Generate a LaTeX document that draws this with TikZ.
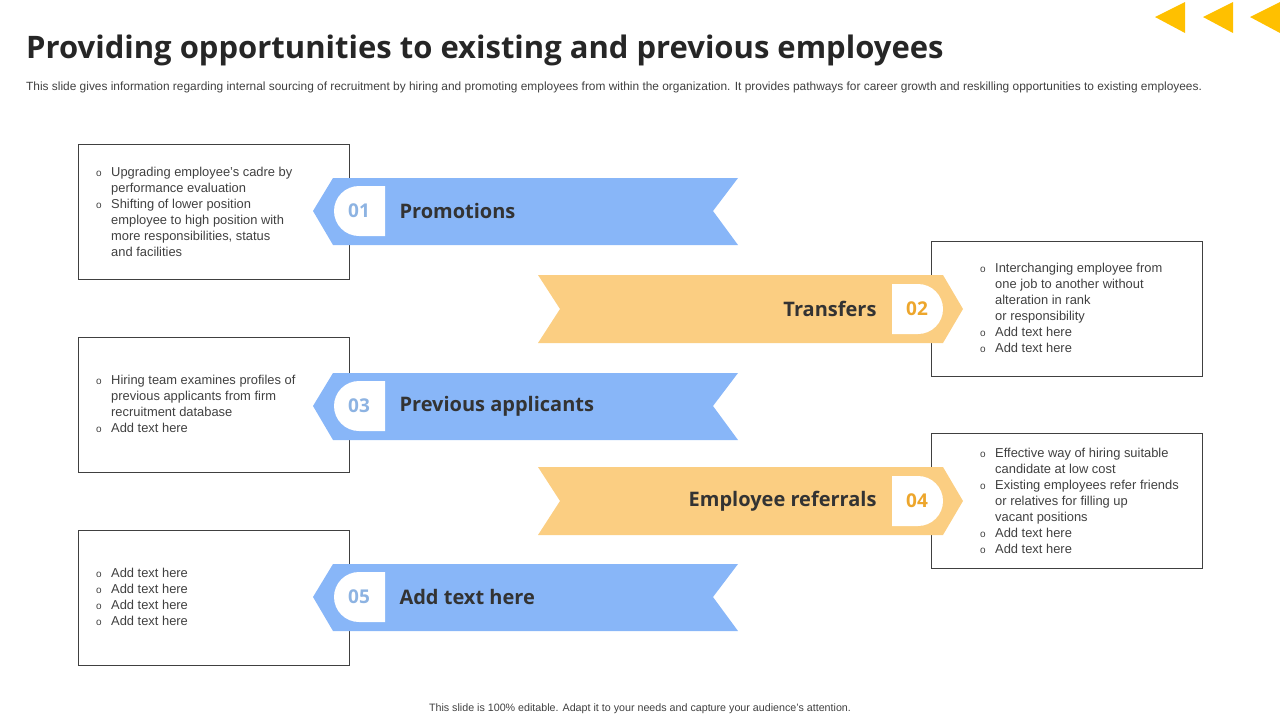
\documentclass[tikz,border=0pt]{standalone}
\usepackage{fontspec}
\setmainfont{Liberation Sans}
\newfontfamily\headfont{Open Sans}
\usetikzlibrary{positioning}
\definecolor{ribblue}{HTML}{88B6F8}
\definecolor{ribgold}{HTML}{FBCE82}
\definecolor{numblue}{HTML}{8DB3E2}
\definecolor{numgold}{HTML}{EDA62C}
\definecolor{arrowgold}{HTML}{FFC000}
\definecolor{bodygrey}{HTML}{404040}
\tikzset{
  infobox/.style={draw=black!75, line width=0.8pt, minimum width=271pt, minimum height=135pt, anchor=north west},
  bullets/.style={anchor=north west, font=\fontsize{12.9}{16}\selectfont, text=bodygrey, align=left, inner sep=0pt},
  ribtext/.style={font=\headfont\bfseries\fontsize{20}{24}\selectfont, text=black!80},
  ribnum/.style={font=\headfont\bfseries\fontsize{19}{22}\selectfont}
}
% left ribbon (blue), #1 = centre y
\newcommand{\leftribbon}[1]{
  \fill[ribblue] (313,#1) -- (333,#1-33) -- (738,#1-33) -- (713,#1) -- (738,#1+34) -- (333,#1+34) -- cycle;
  \fill[white] (385,#1-25) -- (359,#1-25) arc (270:90:25) -- (385,#1+25) -- cycle;
}
% right ribbon (gold)
\newcommand{\rightribbon}[1]{
  \fill[ribgold] (538,#1-34) -- (943,#1-34) -- (963,#1) -- (943,#1+34) -- (538,#1+34) -- (560,#1) -- cycle;
  \fill[white] (892,#1-25) -- (918,#1-25) arc (-90:90:25) -- (892,#1+25) -- cycle;
}
\newcommand{\bl}{\makebox[15pt][l]{\fontsize{10}{10}\selectfont o}}
\begin{document}
\begin{tikzpicture}[x=1pt,y=-1pt]
\useasboundingbox (0,0) rectangle (1280,720);

% header
\node[anchor=base west, inner sep=0pt, font=\headfont\bfseries\fontsize{31}{36}\selectfont, text=black!85] (title) at (26,58) {Providing opportunities to existing and previous employees};
\node[anchor=base west, inner sep=0pt, font=\fontsize{11.9}{13}\selectfont, text=bodygrey] (subtitle) at (26,90) {This slide gives information regarding internal sourcing of recruitment by hiring and promoting employees from within the organization. It provides pathways for career growth and reskilling opportunities to existing employees.};
\foreach \ax in {1155,1203,1250}
  \fill[arrowgold] (\ax,17) -- (\ax+30,2) -- (\ax+30,33) -- cycle;

% boxes
\node[infobox] (boxa) at (78,144) {};
\node[infobox] (boxc) at (78,337) {};
\node[infobox] (boxe) at (78,530) {};
\node[infobox] (boxb) at (931,241) {};
\node[infobox] (boxd) at (931,433) {};

% ribbons
\leftribbon{211}
\rightribbon{309}
\leftribbon{406}
\rightribbon{501}
\leftribbon{597}

\node[ribnum, text=numblue] (numa) at (359,211) {01};
\node[ribtext, anchor=west] (laba) at (396,211) {Promotions};
\node[ribnum, text=numgold] (numb) at (917,309) {02};
\node[ribtext, anchor=east] (labb) at (880,309) {Transfers};
\node[ribnum, text=numblue] (numc) at (359,406) {03};
\node[ribtext, anchor=west] (labc) at (396,406) {Previous applicants};
\node[ribnum, text=numgold] (numd) at (917,501) {04};
\node[ribtext, anchor=east] (labd) at (880,501) {Employee referrals};
\node[ribnum, text=numblue] (nume) at (359,597) {05};
\node[ribtext, anchor=west] (labe) at (396,597) {Add text here};

% bullet texts
\node[bullets] (txta) at (96,167) {\bl Upgrading employee’s cadre by\\\hspace*{15pt}performance evaluation\\\bl Shifting of lower position\\\hspace*{15pt}employee to high position with\\\hspace*{15pt}more responsibilities, status\\\hspace*{15pt}and facilities};
\node[bullets] (txtc) at (96,375) {\bl Hiring team examines profiles of\\\hspace*{15pt}previous applicants from firm\\\hspace*{15pt}recruitment database\\\bl Add text here};
\node[bullets] (txte) at (96,568) {\bl Add text here\\\bl Add text here\\\bl Add text here\\\bl Add text here};
\node[bullets] (txtb) at (980,263) {\bl Interchanging employee from\\\hspace*{15pt}one job to another without\\\hspace*{15pt}alteration in rank\\\hspace*{15pt}or responsibility\\\bl Add text here\\\bl Add text here};
\node[bullets] (txtd) at (980,448) {\bl Effective way of hiring suitable\\\hspace*{15pt}candidate at low cost\\\bl Existing employees refer friends\\\hspace*{15pt}or relatives for filling up\\\hspace*{15pt}vacant positions\\\bl Add text here\\\bl Add text here};

% footer
\node[font=\fontsize{10.7}{12}\selectfont, text=bodygrey] (footer) at (640,709) {This slide is 100\% editable. Adapt it to your needs and capture your audience's attention.};
\end{tikzpicture}
\end{document}
